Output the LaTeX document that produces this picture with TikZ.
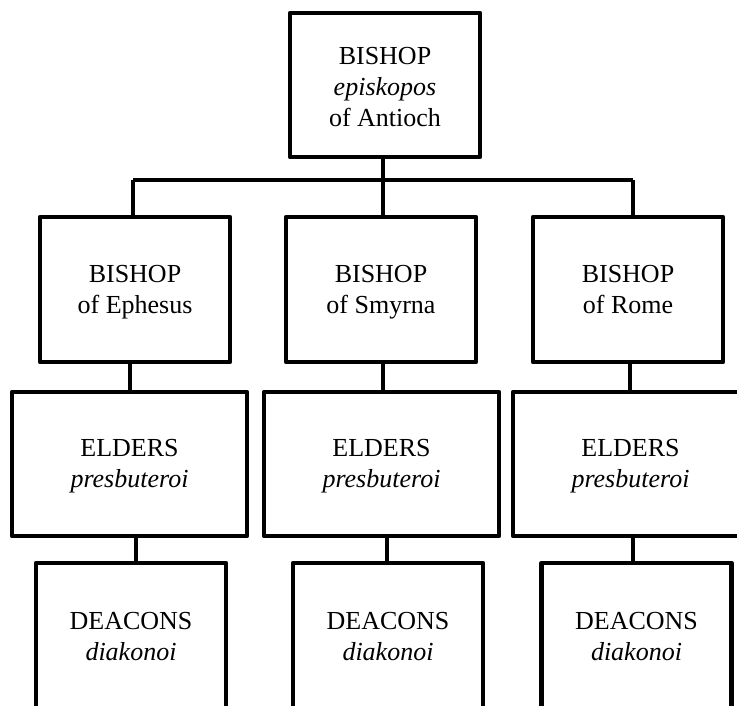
\documentclass[tikz,border=0pt]{standalone}
\usepackage{fontspec}
\setmainfont{Liberation Serif}
% fixed height for a first line and depth for a last line, so every
% box sets its baselines the same way whatever letters it holds
\newcommand\firstln[1][26pt]{\rule{0pt}{#1}}
\newcommand\lastln{\rule[-9.4pt]{0pt}{9.4pt}}
\begin{document}
\begin{tikzpicture}[x=1pt,y=-1pt,
  office/.style={draw=black,line width=4.6pt,line join=round,fill=white,
    inner sep=0pt,align=center,font=\fontsize{26}{31}\selectfont},
  topbox/.style={office,minimum width=190pt,minimum height=144pt},
  bishopbox/.style={office,minimum width=190pt,minimum height=145pt},
  elderbox/.style={office,minimum width=235pt,minimum height=144pt},
  deaconbox/.style={office,minimum width=190pt,minimum height=147pt},
  stem/.style={draw=black,line width=4pt},
  bar/.style={draw=black,line width=3.3pt}]
\useasboundingbox (0,0) rectangle (737,705);
\clip (0,0) rectangle (737,705);

% junction points on the crossbar
\coordinate (jE) at (133,180);
\coordinate (jS) at (383,180);
\coordinate (jR) at (633,180);

% crossbar (drawn first, the boxes cover nothing of it)
\path[bar] (jE) -- (jR);

% offices
\node[topbox] (top) at (385,85)
  {\firstln[30pt]BISHOP\\\textit{episkopos}\\of Antioch\lastln};

\node[bishopbox] (bE) at (135,289.5) {\firstln BISHOP\\of Ephesus\lastln};
\node[bishopbox] (bS) at (381,289.5) {\firstln BISHOP\\of Smyrna\lastln};
\node[bishopbox] (bR) at (628,289.5) {\firstln BISHOP\\of Rome\lastln};

\node[elderbox] (eE) at (129.5,464) {\firstln ELDERS\\\textit{presbuteroi}\lastln};
\node[elderbox] (eS) at (381.5,464) {\firstln ELDERS\\\textit{presbuteroi}\lastln};
\node[elderbox] (eR) at (630.5,464) {\firstln ELDERS\\\textit{presbuteroi}\lastln};

\node[deaconbox] (dE) at (131,636.5) {\firstln DEACONS\\\textit{diakonoi}\lastln};
\node[deaconbox] (dS) at (388,636.5) {\firstln DEACONS\\\textit{diakonoi}\lastln};
\node[deaconbox] (dR) at (636.5,636.5) {\firstln DEACONS\\\textit{diakonoi}\lastln};

% Antioch down to the crossbar
\path[stem] (top.south -| jS) -- (jS);
% crossbar down to the three bishops
\path[stem] (jE) -- (jE |- bE.north);
\path[stem] (jS) -- (jS |- bS.north);
\path[stem] (jR) -- (jR |- bR.north);

% bishops down to elders
\path[stem] ([xshift=-5pt]bE.south) -- ([xshift=-5pt]bE.south |- eE.north);
\path[stem] ([xshift=2pt]bS.south) -- ([xshift=2pt]bS.south |- eS.north);
\path[stem] ([xshift=2pt]bR.south) -- ([xshift=2pt]bR.south |- eR.north);

% elders down to deacons
\path[stem] ([xshift=6.5pt]eE.south) -- ([xshift=6.5pt]eE.south |- dE.north);
\path[stem] ([xshift=5.5pt]eS.south) -- ([xshift=5.5pt]eS.south |- dS.north);
\path[stem] ([xshift=2.5pt]eR.south) -- ([xshift=2.5pt]eR.south |- dR.north);
\end{tikzpicture}
\end{document}
